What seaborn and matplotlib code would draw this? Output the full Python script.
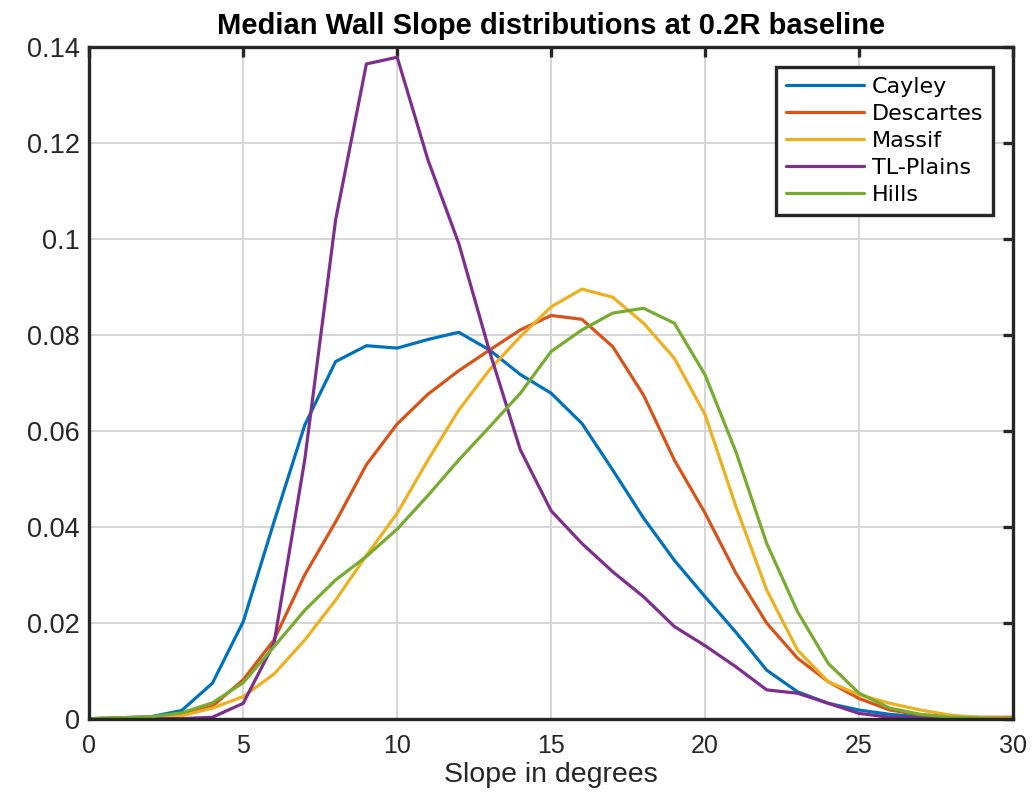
import numpy as np
import pandas as pd
import matplotlib
matplotlib.use("Agg")
import matplotlib.pyplot as plt
import seaborn as sns

slope = list(range(0, 31))
cayley = [0, 0.0002, 0.0004, 0.0017, 0.0074, 0.0202, 0.041, 0.0612, 0.0744, 0.0777, 0.0772,
          0.0790, 0.0805, 0.0768, 0.0717, 0.0678, 0.0615, 0.0518, 0.0418, 0.0330, 0.0254,
          0.0180, 0.0101, 0.0056, 0.0032, 0.0018, 0.0009, 0.0004, 0.0001, 0, 0]
descartes = [0, 0.0001, 0.0003, 0.0008, 0.0026, 0.0081, 0.0164, 0.0300, 0.0410, 0.0529, 0.0614,
             0.0676, 0.0725, 0.0768, 0.0810, 0.0840, 0.0832, 0.0775, 0.0674, 0.0539, 0.0428,
             0.0303, 0.0199, 0.0126, 0.0077, 0.0042, 0.0018, 0.0008, 0.0004, 0.0003, 0.0003]
massif = [0, 0.0001, 0.0002, 0.0006, 0.0022, 0.0046, 0.0093, 0.0164, 0.0247, 0.0340, 0.0428,
          0.0539, 0.0643, 0.0727, 0.0796, 0.0858, 0.0895, 0.0878, 0.0824, 0.0751, 0.0633,
          0.0442, 0.0268, 0.0143, 0.0077, 0.0050, 0.0032, 0.0018, 0.0007, 0.0002, 0.0001]
tl_plains = [0, 0, 0, 0, 0.0003, 0.0032, 0.0157, 0.0540, 0.1039, 0.1364, 0.1378,
             0.1164, 0.0990, 0.0765, 0.0560, 0.0433, 0.0365, 0.0306, 0.0254, 0.0192, 0.0152,
             0.0108, 0.0060, 0.0053, 0.0032, 0.0011, 0.0003, 0.0001, 0, 0, 0]
hills = [0, 0.0002, 0.0004, 0.0012, 0.0033, 0.0075, 0.0150, 0.0226, 0.0289, 0.0338, 0.0395,
         0.0465, 0.0539, 0.0608, 0.0678, 0.0765, 0.0810, 0.0845, 0.0855, 0.0824, 0.0716,
         0.0556, 0.0365, 0.0223, 0.0115, 0.0053, 0.0022, 0.0009, 0.0003, 0.0001, 0]

names = ["Cayley", "Descartes", "Massif", "TL-Plains", "Hills"]
series = [cayley, descartes, massif, tl_plains, hills]
colors = ["#0072BD", "#D95319", "#EDB120", "#7E2F8E", "#77AC30"]
xticks = [0, 5, 10, 15, 20, 25, 30]
yticks = [0, 0.02, 0.04, 0.06, 0.08, 0.1, 0.12, 0.14]
ytick_labels = ["0", "0.02", "0.04", "0.06", "0.08", "0.1", "0.12", "0.14"]

df = pd.concat([pd.DataFrame({"Slope": slope, "Frequency": s, "Region": n})
                for n, s in zip(names, series)], ignore_index=True)

sns.set_theme(style="white")
plt.rcParams['font.family'] = ['Liberation Sans', 'DejaVu Sans']

fig = plt.figure(figsize=(10.33, 7.95), dpi=100)
ax = fig.add_axes([0.0864, 0.096, 0.8943, 0.8453])

sns.lineplot(data=df, x="Slope", y="Frequency", hue="Region", hue_order=names,
             palette=dict(zip(names, colors)), linewidth=2.3, ax=ax, estimator=None, sort=True)

ax.set_xlim(0, 30)
ax.set_ylim(0, 0.14)
ax.set_xticks(xticks)
ax.set_yticks(yticks)
ax.set_yticklabels(ytick_labels)
ax.grid(True, color="#d6d6d6", linewidth=1.4)
for sp in ax.spines.values():
    sp.set_visible(True)
    sp.set_color("#262626")
    sp.set_linewidth(2.4)
ax.tick_params(axis="both", direction="in", length=7.5, width=2.4, color="#262626",
               labelcolor="#262626", top=True, right=True)
ax.tick_params(axis="x", labelsize=18, pad=11)
ax.tick_params(axis="y", labelsize=19.5, pad=7)
ax.set_xlabel("Slope in degrees", fontsize=20.5, color="#262626", labelpad=3)
ax.set_ylabel("")
ax.set_title("Median Wall Slope distributions at 0.2R baseline", fontsize=21,
             fontweight="bold", color="black", pad=9)

leg = ax.legend(loc="upper right", frameon=True, fancybox=False,
                borderaxespad=0.9, borderpad=0.45, labelspacing=0.32,
                handlelength=3.5, handletextpad=0.35,
                prop={"family": "DejaVu Sans", "size": 16})
leg.get_frame().set_edgecolor("#262626")
leg.get_frame().set_linewidth(2.4)
leg.get_frame().set_alpha(1)
for t in leg.get_texts():
    t.set_color("black")
for line in leg.get_lines():
    line.set_linewidth(2.3)

fig.savefig("out.png", dpi=100)
